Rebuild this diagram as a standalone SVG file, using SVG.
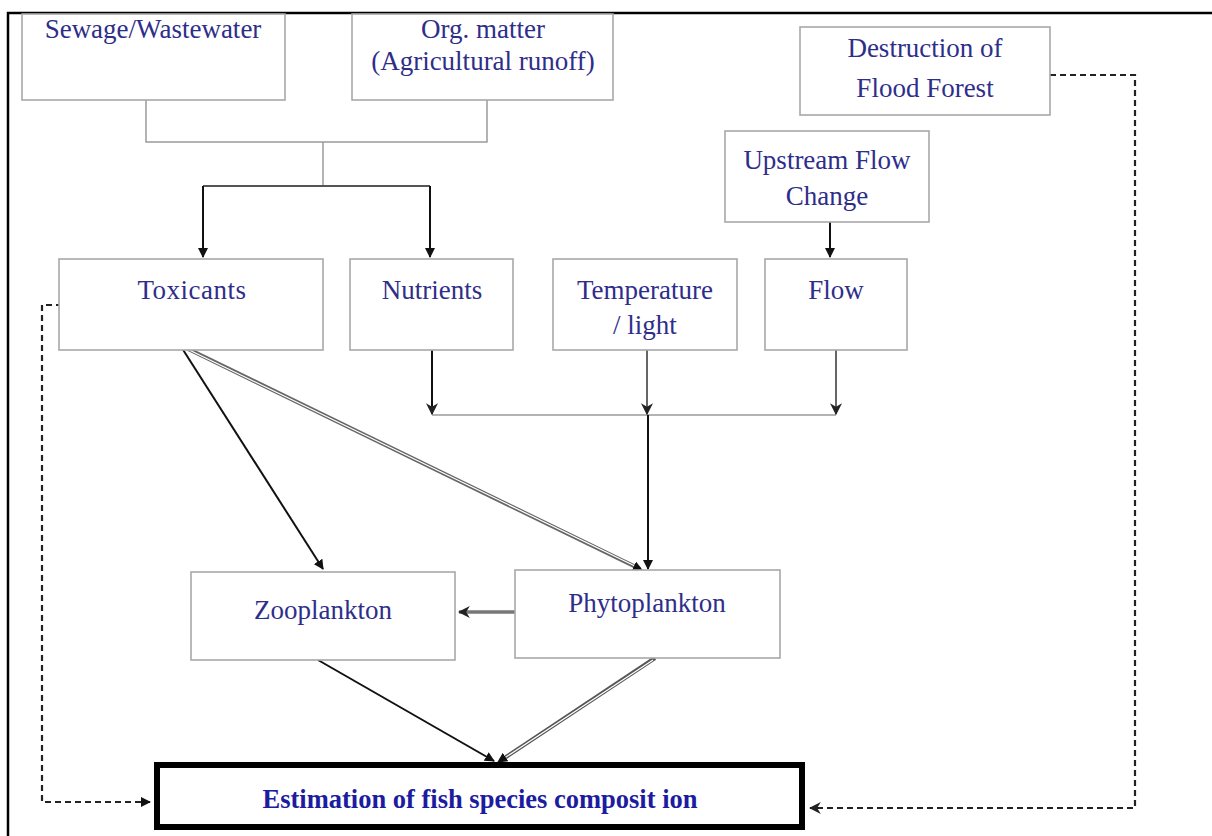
<svg xmlns="http://www.w3.org/2000/svg" width="1212" height="836" viewBox="0 0 1212 836">
<defs>
<style>
.box{fill:#fff;stroke:#a8a8a8;stroke-width:1.6}
.t{font-family:"Liberation Serif","Times New Roman",serif;font-size:27px;fill:#2e2e8a;text-anchor:middle}
.tb{font-family:"Liberation Serif","Times New Roman",serif;font-size:26.5px;font-weight:bold;fill:#1c1ca0;text-anchor:middle}
.thin{fill:none;stroke:#9a9a9a;stroke-width:1.5}
.blk{fill:none;stroke:#111;stroke-width:2}
.gry{fill:none;stroke:#555;stroke-width:1.8}
.dash{fill:none;stroke:#222;stroke-width:2.2;stroke-dasharray:6 4}
</style>
<marker id="ah" viewBox="0 0 10 10" refX="9" refY="5" markerWidth="10" markerHeight="10" markerUnits="userSpaceOnUse" orient="auto">
<path d="M0,0 L10,5 L0,10 z" fill="#111"/>
</marker>
<marker id="av" viewBox="0 0 10 10" refX="9" refY="5" markerWidth="12" markerHeight="12" markerUnits="userSpaceOnUse" orient="auto">
<path d="M0,0 L10,5 L0,10 L3,5 z" fill="#222"/>
</marker>
</defs>
<rect width="1212" height="836" fill="#fff"/>
<path d="M8,836 V13 H1212" fill="none" stroke="#000" stroke-width="2.5"/>

<g id="connectors">
<path class="thin" d="M146,100 V142 H487 V100 M323,142 V186"/>
<path class="gry" d="M203,186 H430"/>
<path class="blk" d="M203,186 V257" marker-end="url(#ah)"/>
<path class="blk" d="M430,186 V257" marker-end="url(#ah)"/>
<path class="blk" stroke-width="2.5" d="M830,222 V257" marker-end="url(#ah)"/>
<path class="thin" d="M432,415 H836"/>
<path class="blk" d="M432,350 V414" marker-end="url(#av)"/>
<path class="gry" d="M647,350 V414" marker-end="url(#av)"/>
<path class="gry" d="M836,350 V414" marker-end="url(#av)"/>
<path class="blk" stroke-width="2.5" d="M648,415 V569" marker-end="url(#ah)"/>
<path class="blk" stroke-width="1.6" d="M180,345 L323,569" marker-end="url(#ah)"/>
<path fill="none" stroke="#666" stroke-width="4" d="M180,345 L640,569"/>
<path fill="none" stroke="#fff" stroke-width="1.2" d="M183,347 L637,567"/>
<path fill="none" stroke="none" d="M180,345 L642,570" marker-end="url(#ah)"/>
<path fill="none" stroke="#777" stroke-width="3.5" d="M515,612 H459" marker-end="url(#av)"/>
<path class="blk" d="M318,660 L494,761" marker-end="url(#ah)"/>
<path fill="none" stroke="#555" stroke-width="4" d="M655,658 L500,761"/>
<path fill="none" stroke="#fff" stroke-width="1.2" d="M653,660 L503,759"/>
<path fill="none" stroke="none" d="M655,658 L498,762" marker-end="url(#ah)"/>
<path class="dash" d="M62,305 H42 V802 H150" marker-end="url(#ah)"/>
<path class="dash" d="M1050,75 H1135 V808 H810" marker-end="url(#av)"/>
</g>

<g id="sewage"><rect class="box" x="22" y="14" width="263" height="86"/><text class="t" x="153" y="38">Sewage/Wastewater</text></g>
<g id="orgmatter"><rect class="box" x="352" y="14" width="261" height="86"/><text class="t" x="483" y="38">Org. matter</text><text class="t" x="483" y="70">(Agricultural runoff)</text></g>
<g id="destruction"><rect class="box" x="800" y="27" width="250" height="88"/><text class="t" x="925" y="57">Destruction of</text><text class="t" x="925" y="97">Flood Forest</text></g>
<g id="upstream"><rect class="box" x="725" y="131" width="204" height="91"/><text class="t" x="827" y="169">Upstream Flow</text><text class="t" x="827" y="205">Change</text></g>
<g id="toxicants"><rect class="box" x="59" y="259" width="264" height="91"/><text class="t" x="192" y="299" letter-spacing="0.5">Toxicants</text></g>
<g id="nutrients"><rect class="box" x="350" y="259" width="163" height="91"/><text class="t" x="432" y="299">Nutrients</text></g>
<g id="temperature"><rect class="box" x="553" y="259" width="184" height="91"/><text class="t" x="645" y="299">Temperature</text><text class="t" x="645" y="334">/ light</text></g>
<g id="flow"><rect class="box" x="765" y="259" width="142" height="91"/><text class="t" x="836" y="299">Flow</text></g>
<g id="zooplankton"><rect class="box" x="191" y="572" width="264" height="88"/><text class="t" x="323" y="619">Zooplankton</text></g>
<g id="phytoplankton"><rect class="box" x="515" y="570" width="265" height="88"/><text class="t" x="647" y="612">Phytoplankton</text></g>
<g id="estimation"><rect x="157" y="765" width="645" height="62" fill="#fff" stroke="#000" stroke-width="6"/><text class="tb" x="480" y="808">Estimation of fish species composit ion</text></g>
</svg>
